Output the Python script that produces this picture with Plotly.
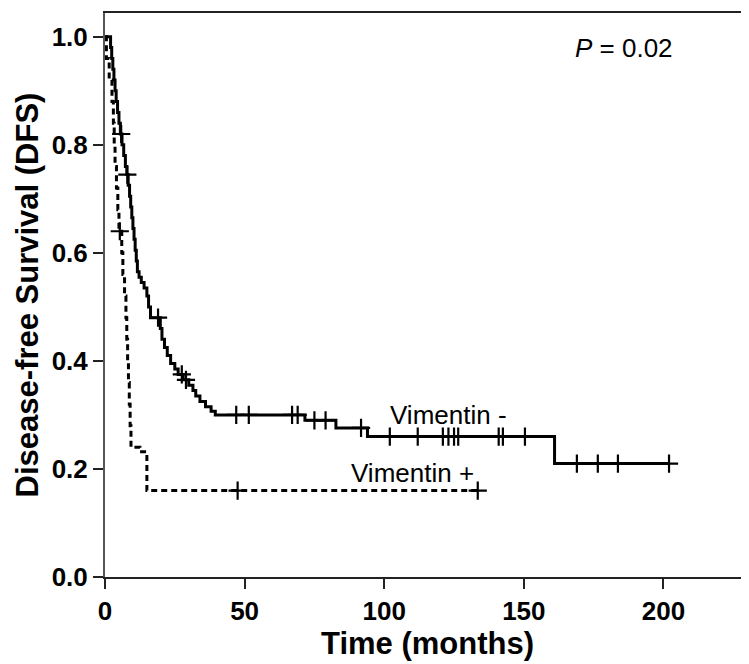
import plotly.graph_objects as go
import numpy as np

# Vimentin - (solid): step times and survival after each step
vneg_times = [0, 2.0, 2.4, 2.8, 3.2, 3.6, 4.0, 4.5, 5.0, 5.5, 6.1, 6.7, 7.3, 7.8,
              8.3, 8.8, 9.2, 9.6, 10.0, 10.4, 10.8, 11.2, 11.6, 12.2, 13.0, 14.0,
              15.0, 15.6, 16.3, 19.8, 20.4, 21.3, 22.3, 23.5, 25.0, 26.2, 28.0,
              30.0, 31.5, 32.5, 34.0, 36.0, 38.0, 39.5, 71.6, 82.7, 94.0, 161.0, 202.0]
vneg_surv = [1.0, 0.98, 0.96, 0.94, 0.92, 0.90, 0.88, 0.86, 0.84, 0.82, 0.80, 0.78,
             0.76, 0.745, 0.725, 0.705, 0.685, 0.665, 0.645, 0.625, 0.605, 0.585,
             0.565, 0.555, 0.545, 0.535, 0.52, 0.50, 0.48, 0.46, 0.44, 0.425, 0.41,
             0.395, 0.385, 0.375, 0.365, 0.355, 0.345, 0.335, 0.325, 0.315, 0.307,
             0.30, 0.29, 0.276, 0.26, 0.21, 0.21]
vneg_censor = [5.8, 8.0, 19.0, 27.5, 29.0, 47.0, 51.5, 67.0, 69.0, 75.0, 79.0, 91.7,
               102.0, 112.0, 121.0, 123.0, 125.0, 126.5, 141.0, 142.5, 150.4, 169.0,
               176.5, 183.7, 202.0]

# Vimentin + (dashed)
vpos_times = [0, 0.5, 1.5, 2.5, 3.0, 3.3, 3.6, 4.1, 4.6, 5.0, 6.0, 6.4, 7.0, 7.5,
              7.8, 8.1, 8.4, 8.7, 9.0, 9.3, 12.5, 15.0, 133.5]
vpos_surv = [1.0, 0.96, 0.92, 0.88, 0.84, 0.80, 0.76, 0.72, 0.68, 0.64, 0.60, 0.56,
             0.52, 0.48, 0.44, 0.40, 0.36, 0.32, 0.28, 0.24, 0.232, 0.16, 0.16]
vpos_censor = [5.3, 47.5, 133.5]

x_ticks = [0, 50, 100, 150, 200]
y_ticks = [0.0, 0.2, 0.4, 0.6, 0.8, 1.0]
y_tick_labels = ["0.0", "0.2", "0.4", "0.6", "0.8", "1.0"]


def surv_at(times, surv, t):
    idx = np.searchsorted(np.array(times), t, side="right") - 1
    return surv[max(idx, 0)]


fig = go.Figure()
fig.add_trace(go.Scatter(x=vneg_times, y=vneg_surv, mode="lines", line_shape="hv",
                         line=dict(color="black", width=3), showlegend=False,
                         hoverinfo="skip"))
fig.add_trace(go.Scatter(x=vpos_times, y=vpos_surv, mode="lines", line_shape="hv",
                         line=dict(color="black", width=3, dash="6px,4px"),
                         showlegend=False, hoverinfo="skip"))
fig.add_trace(go.Scatter(x=vneg_censor,
                         y=[surv_at(vneg_times, vneg_surv, t) for t in vneg_censor],
                         mode="markers",
                         marker=dict(symbol="cross-thin", size=13,
                                     line=dict(color="black", width=2.2)),
                         showlegend=False))
fig.add_trace(go.Scatter(x=vpos_censor,
                         y=[surv_at(vpos_times, vpos_surv, t) for t in vpos_censor],
                         mode="markers",
                         marker=dict(symbol="cross-thin", size=13,
                                     line=dict(color="black", width=2.2)),
                         showlegend=False))

font_fam = "Liberation Sans, Arial, sans-serif"
fig.add_annotation(x=123, y=0.30, text="Vimentin -", showarrow=False,
                   font=dict(family=font_fam, size=26, color="black"))
fig.add_annotation(x=110, y=0.193, text="Vimentin +", showarrow=False,
                   font=dict(family=font_fam, size=26, color="black"))
fig.add_annotation(x=186, y=0.98, text="<i>P</i> = 0.02", showarrow=False,
                   font=dict(family=font_fam, size=26, color="black"))

fig.update_layout(
    width=749, height=664,
    margin=dict(l=97, r=7, t=5, b=95),
    paper_bgcolor="white", plot_bgcolor="white",
    font=dict(family=font_fam, color="black"),
    xaxis=dict(range=[0, 231], tickvals=x_ticks, ticks="outside", ticklen=10,
               tickwidth=2, tickcolor="#222", showline=True, linecolor="#222",
               linewidth=2, mirror=True, showgrid=False, zeroline=False,
               automargin=False,
               tickfont=dict(family=font_fam, size=26, weight="bold"),
               title=dict(text="Time (months)", standoff=4,
                          font=dict(family=font_fam, size=31, weight="bold"))),
    yaxis=dict(range=[0, 1.044], tickvals=y_ticks, ticktext=y_tick_labels,
               ticks="outside", ticklen=10, tickwidth=2, tickcolor="#222",
               showline=True, linecolor="#555", linewidth=2, mirror=True,
               showgrid=False, zeroline=False, automargin=False,
               tickfont=dict(family=font_fam, size=26, weight="bold"),
               title=dict(text="Disease-free Survival (DFS)", standoff=4,
                          font=dict(family=font_fam, size=31, weight="bold"))),
)

fig.write_html("out.html")
